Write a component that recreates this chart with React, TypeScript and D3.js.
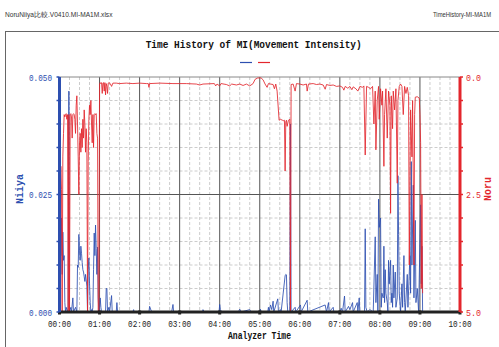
import React from "react";
import * as d3 from "d3";

// ---- data ----
const hourLabels = ["00:00","01:00","02:00","03:00","04:00","05:00","06:00","07:00","08:00","09:00","10:00"];
const leftTickLabels = ["0.000", "0.025", "0.050"];
const leftTickValues = [0, 0.025, 0.05];
const rightTickLabels = ["0.0", "2.5", "5.0"];
const rightTickValues = [0, 2.5, 5];
const seriesNames = ["Niiya", "Noru"];

// [minute, value] Noru (right axis, inverted)
const noruData: [number, number][] = [
  [0,4.8],[1,3.0],[2,1.9],[3,2.4],[4,5.0],[5,1.7],[6,1.2],[7,0.8],[8,0.85],[9,0.8],[10,0.78],[11,0.9],[12,0.8],[13,5.0],[14,0.8],[15,5.0],[16,0.8],[17,0.78],[18,0.85],[19,1.3],[20,0.8],[21,0.78],[22,0.8],[23,0.9],[24,1.2],[25,0.6],[26,0.4],[27,1.0],[28,1.7],[29,2.5],[30,1.4],[31,1.2],[32,1.6],[33,1.1],[34,1.5],[35,0.9],[36,1.3],[37,0.7],[38,1.0],[39,1.6],[40,1.1],[41,1.4],[42,5.0],[43,1.8],[44,0.9],[45,0.6],[46,0.8],[47,0.5],[48,1.0],[49,1.4],[50,0.8],[51,1.5],[52,0.8],[53,0.78],[54,0.8],[55,0.78],[56,1.2],[57,1.3],[58,5.0],[59,5.0],[60,0.15],[61,0.12],[62,0.14],[63,0.12],[64,0.35],[65,0.13],[66,0.12],[67,0.3],[68,0.12],[69,0.38],[70,0.14],[71,0.2],[72,0.35],[73,0.13],[74,0.12],[76,0.14],[78,0.2],[80,0.13],[85,0.13],[90,0.14],[100,0.13],[110,0.14],[120,0.13],[130,0.14],[133,0.14],[134,0.22],[135,0.14],[150,0.13],[170,0.14],[190,0.14],[205,0.15],[210,0.17],[215,0.15],[232,0.14],[234,0.19],[236,0.15],[240,0.19],[242,0.14],[250,0.16],[255,0.19],[258,0.15],[265,0.17],[270,0.15],[275,0.18],[280,0.15],[285,0.19],[290,0.14],[293,0.05],[297,0.02],[302,0.02],[305,0.06],[308,0.15],[311,0.22],[313,0.14],[316,0.15],[320,0.16],[322,0.25],[324,0.15],[326,0.3],[329,0.92],[331,0.9],[334,0.92],[336,0.93],[337,0.92],[338,2.0],[339,0.95],[340,0.92],[341,1.05],[343,0.92],[345,0.9],[346,5.0],[347,0.16],[350,0.15],[353,0.3],[355,0.14],[360,0.15],[365,0.17],[370,0.15],[371,0.3],[373,0.15],[380,0.14],[385,0.16],[390,0.15],[395,0.17],[398,0.26],[400,0.16],[405,0.18],[410,0.17],[415,0.2],[420,0.19],[424,0.22],[426,0.28],[428,0.2],[432,0.24],[435,0.2],[438,0.27],[440,0.21],[444,0.25],[447,0.3],[450,0.2],[454,0.22],[456,0.19],[458,1.66],[460,0.2],[463,0.22],[466,0.25],[469,0.2],[471,1.0],[473,0.3],[474,1.55],[476,0.5],[478,0.2],[479,0.9],[481,0.25],[483,0.6],[484,0.3],[486,1.9],[487,0.8],[489,0.25],[491,1.3],[493,0.3],[495,0.6],[496,2.9],[497,0.4],[499,1.1],[500,0.3],[502,0.7],[504,0.25],[506,2.26],[507,0.5],[509,0.2],[511,0.15],[513,0.2],[515,0.8],[517,0.2],[519,0.35],[521,0.22],[523,0.4],[524,4.0],[526,0.7],[528,1.7],[529,0.5],[531,4.0],[532,0.8],[533,0.43],[536,0.42],[539,0.45],[540,0.8],[541,1.4],[542,4.5],[543,2.5],[544,4.6]
];

// [minute, value] Niiya (left axis)
const niiyaData: [number, number][] = [
  [0,0],[1,0.032],[2,0.012],[3,0.02],[4,0.008],[5,0.017],[6,0.011],[7,0.012],[8,0.002],[9,0],[10,0.001],[12,0],[13,0.001],[14,0.047],[15,0],[17,0.001],[18,0],[20,0.003],[21,0],[24,0.001],[26,0],[27,0.01],[28,0.0095],[29,0.0165],[30,0.013],[31,0.011],[32,0.014],[33,0.0125],[34,0.0105],[35,0.009],[36,0.0085],[37,0.0075],[38,0.0065],[39,0.008],[40,0.0068],[41,0.0055],[42,0],[43,0.009],[44,0.0115],[45,0.006],[46,0.002],[47,0],[48,0.0005],[49,0],[50,0.001],[51,0.009],[52,0.0168],[53,0.012],[54,0.0185],[55,0.0135],[56,0.008],[57,0.0138],[58,0.003],[59,0],[60,0.001],[61,0.003],[62,0.001],[63,0],[69,0],[70,0.005],[71,0.005],[72,0],[74,0.001],[75,0],[78,0.0035],[79,0],[85,0],[86,0.002],[87,0],[110,0],[111,0.0005],[112,0],[134,0],[135,0.0012],[137,0.0004],[139,0],[168,0],[170,0.0016],[171,0],[214,0],[215,0.0005],[217,0],[239,0],[240,0.0016],[241,0.0005],[243,0],[268,0],[270,0.0006],[272,0],[285,0.0005],[287,0],[300,0],[301,0.0006],[302,0],[312,0],[313,0.001],[314,0],[316,0.0015],[318,0.0005],[320,0.0023],[321,0],[327,0.0028],[328,0],[331,0.0005],[332,0],[338,0.0077],[339,0.008],[340,0.0079],[341,0.002],[342,0],[345,0],[346,0.04],[347,0],[353,0.001],[354,0],[361,0.0015],[362,0],[371,0.0025],[372,0],[398,0.0015],[400,0],[403,0.002],[404,0],[410,0.001],[411,0],[420,0],[422,0.0008],[424,0],[427,0.0034],[428,0],[433,0.0012],[435,0.0005],[439,0.002],[440,0],[446,0.002],[447,0],[449,0.003],[450,0],[457,0],[458,0.0177],[459,0.001],[461,0],[465,0.0005],[470,0],[473,0.016],[474,0.002],[476,0.008],[477,0],[478,0.024],[479,0.018],[481,0.02],[482,0.001],[483,0.004],[485,0.003],[486,0.014],[487,0.002],[488,0.009],[489,0.004],[491,0.002],[492,0],[493,0.011],[494,0.006],[496,0.011],[497,0.002],[498,0.004],[499,0.001],[500,0.01],[501,0.003],[503,0.0085],[504,0.001],[506,0.003],[507,0.029],[508,0.0165],[509,0.004],[511,0],[513,0.006],[514,0.001],[516,0.012],[517,0.002],[518,0],[521,0.008],[522,0.001],[525,0.012],[526,0.004],[527,0.032],[528,0.01],[530,0.027],[531,0.003],[533,0.0195],[534,0.002],[536,0.005],[538,0],[541,0.0228],[542,0.006],[543,0.014],[544,0]
];

const BLUE = "#2d4fb0";
const RED = "#e3262d";
const MONO = "'Liberation Mono', 'DejaVu Sans Mono', monospace";

export default function App() {
  const W = 499, H = 347;
  const x0 = 59.5, x1 = 460, yTop = 77, yBot = 312;
  const x = d3.scaleLinear().domain([0, 600]).range([x0, x1]);
  const yL = d3.scaleLinear().domain([0, 0.05]).range([yBot, yTop]);
  const yR = d3.scaleLinear().domain([0, 5]).range([yTop, yBot]);

  const lineL = d3.line<[number, number]>().x(d => x(d[0])).y(d => yL(d[1]));
  const lineR = d3.line<[number, number]>().x(d => x(d[0])).y(d => yR(d[1]));

  const minor15 = d3.range(15, 600, 15).filter(m => m % 60 !== 0);
  const hours = d3.range(0, 601, 60);
  const hMinor = d3.range(0.005, 0.05, 0.005).filter(v => Math.abs(v - 0.025) > 1e-6);
  const leftTicks = d3.range(0, 0.0501, 0.005);
  const rightTicks = d3.range(0, 5.01, 0.5);

  return (
    <svg width={W} height={H} style={{ position: "absolute", left: 0, top: 0, background: "#fff" }}>
      <text x={5} y={17} fontFamily="'Liberation Sans', Arial, sans-serif" fontSize={6.6} fill="#333">NoruNiiya比較.V0410.MI-MA1M.xlsx</text>
      <text x={433} y={17} fontFamily="'Liberation Sans', Arial, sans-serif" fontSize={6.4} textLength={58} lengthAdjust="spacingAndGlyphs" fill="#333">TimeHistory-MI-MA1M</text>
      <rect x={5.5} y={31.5} width={600} height={400} fill="none" stroke="#666" strokeWidth={1} />

      <text x={253.7} y={47.5} textAnchor="middle" fontFamily={MONO} fontWeight="bold" fontSize={11} textLength={216} lengthAdjust="spacingAndGlyphs" fill="#111">Time History of MI(Movement Intensity)</text>

      {/* legend */}
      <line x1={240} x2={252} y1={62.5} y2={62.5} stroke={BLUE} strokeWidth={1.2}><title>{seriesNames[0]}</title></line>
      <line x1={258} x2={270} y1={62.5} y2={62.5} stroke={RED} strokeWidth={1.2}><title>{seriesNames[1]}</title></line>

      {/* grid */}
      {minor15.map(m => (
        <line key={"vm" + m} x1={x(m)} x2={x(m)} y1={yTop} y2={yBot} stroke="#cccccc" strokeWidth={1} strokeDasharray="3,2" />
      ))}
      {hMinor.map(v => (
        <line key={"hm" + v} x1={x0} x2={x1} y1={yL(v)} y2={yL(v)} stroke="#cccccc" strokeWidth={1} strokeDasharray="3,2" />
      ))}
      {hours.slice(1, 10).map(m => (
        <line key={"vM" + m} x1={x(m)} x2={x(m)} y1={yTop} y2={yBot} stroke="#555" strokeWidth={1} />
      ))}
      <line x1={x0} x2={x1} y1={yL(0.025)} y2={yL(0.025)} stroke="#555" strokeWidth={1} />
      <line x1={x0} x2={x1} y1={yTop} y2={yTop} stroke="#888" strokeWidth={1} />

      {/* series */}
      <path d={lineL(niiyaData) || ""} fill="none" stroke={BLUE} strokeWidth={1} strokeOpacity={0.85} />
      <path d={lineR(noruData) || ""} fill="none" stroke={RED} strokeWidth={1} strokeOpacity={0.85} />

      {/* x axis */}
      <line x1={x0} x2={x1} y1={yBot} y2={yBot} stroke="#222" strokeWidth={3} />
      {hours.map(m => (
        <rect key={"xt" + m} x={x(m) - 1.5} y={yBot - 1.5} width={3} height={4} fill="#222" />
      ))}
      {hours.map((m, i) => (
        <text key={"xl" + m} x={x(m)} y={326.5} textAnchor="middle" fontFamily={MONO} fontSize={9} textLength={23} lengthAdjust="spacingAndGlyphs" fill="#222">{hourLabels[i]}</text>
      ))}
      <text x={259.5} y={338.5} textAnchor="middle" fontFamily={MONO} fontWeight="bold" fontSize={10} textLength={63} lengthAdjust="spacingAndGlyphs" fill="#111">Analyzer Time</text>

      {/* left axis */}
      <line x1={x0} x2={x0} y1={yTop} y2={yBot} stroke={BLUE} strokeWidth={3} />
      {leftTicks.map(v => (
        <line key={"lt" + v} x1={x0 - 3} x2={x0} y1={yL(v)} y2={yL(v)} stroke={BLUE} strokeWidth={1.5} />
      ))}
      {leftTickValues.map((v, i) => (
        <text key={"ll" + v} x={52} y={yL(v) + 3.5} textAnchor="end" fontFamily={MONO} fontSize={9.5} textLength={23} lengthAdjust="spacingAndGlyphs" fill={BLUE}>{leftTickLabels[i]}</text>
      ))}
      <text transform={`translate(23,189) rotate(-90)`} textAnchor="middle" fontFamily={MONO} fontWeight="bold" fontSize={10} fill={BLUE}>{seriesNames[0]}</text>

      {/* right axis */}
      <line x1={x1} x2={x1} y1={yTop} y2={yBot} stroke={RED} strokeWidth={3} />
      {rightTicks.map(v => (
        <line key={"rt" + v} x1={x1} x2={x1 + 3} y1={yR(v)} y2={yR(v)} stroke={RED} strokeWidth={1.5} />
      ))}
      {rightTickValues.map((v, i) => (
        <text key={"rl" + v} x={466} y={yR(v) + 3.5} textAnchor="start" fontFamily={MONO} fontSize={9.5} textLength={15} lengthAdjust="spacingAndGlyphs" fill={RED}>{rightTickLabels[i]}</text>
      ))}
      <text transform={`translate(491,189) rotate(-90)`} textAnchor="middle" fontFamily={MONO} fontWeight="bold" fontSize={10} fill={RED}>{seriesNames[1]}</text>
    </svg>
  );
}
